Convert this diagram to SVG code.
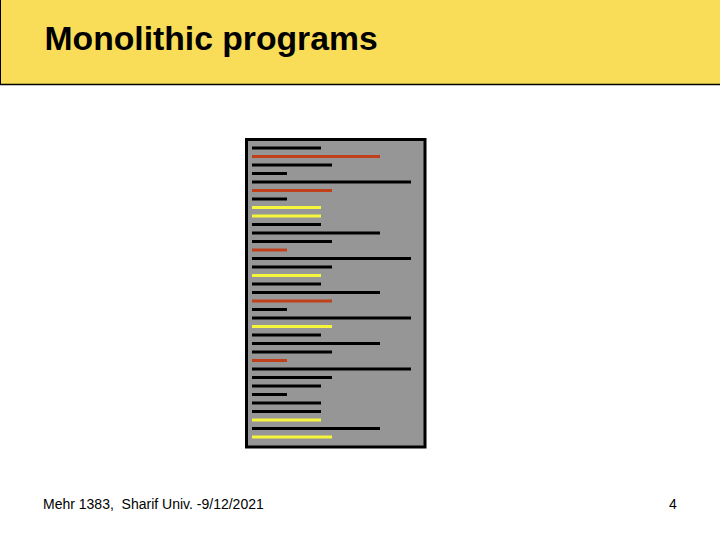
<svg xmlns="http://www.w3.org/2000/svg" width="720" height="540" viewBox="0 0 720 540">
<style>
.t{font-family:"Liberation Sans",Arial,sans-serif;fill:#000}
.k{stroke:#000;stroke-width:3}
.r{stroke:#C0401C;stroke-width:3}
.y{stroke:#F5F53C;stroke-width:3}
</style>
<rect width="720" height="540" fill="#fff"/>
<g id="header">
<rect x="0" y="0" width="720" height="84" fill="#F9DD58"/>
<line x1="0.5" y1="0" x2="0.5" y2="84" stroke="#000" stroke-width="1"/>
<line x1="0" y1="84.5" x2="720" y2="84.5" stroke="#000" stroke-width="1.5"/>
<text class="t" x="44.5" y="50" font-size="33.7" font-weight="bold">Monolithic programs</text>
</g>
<g id="program">
<rect x="246.5" y="139.5" width="178.5" height="307.5" fill="#969696" stroke="#000" stroke-width="3"/>
<g id="lines">
<line class="k" x1="252" y1="148" x2="321" y2="148"/>
<line class="r" x1="252" y1="156.5" x2="380" y2="156.5"/>
<line class="k" x1="252" y1="165" x2="332" y2="165"/>
<line class="k" x1="252" y1="173.5" x2="287" y2="173.5"/>
<line class="k" x1="252" y1="182" x2="411" y2="182"/>
<line class="r" x1="252" y1="190.5" x2="332" y2="190.5"/>
<line class="k" x1="252" y1="199" x2="287" y2="199"/>
<line class="y" x1="252" y1="207.5" x2="321" y2="207.5"/>
<line class="y" x1="252" y1="216" x2="321" y2="216"/>
<line class="k" x1="252" y1="224.5" x2="321" y2="224.5"/>
<line class="k" x1="252" y1="233" x2="380" y2="233"/>
<line class="k" x1="252" y1="241.5" x2="332" y2="241.5"/>
<line class="r" x1="252" y1="250" x2="287" y2="250"/>
<line class="k" x1="252" y1="258.5" x2="411" y2="258.5"/>
<line class="k" x1="252" y1="267" x2="332" y2="267"/>
<line class="y" x1="252" y1="275.5" x2="321" y2="275.5"/>
<line class="k" x1="252" y1="284" x2="321" y2="284"/>
<line class="k" x1="252" y1="292.5" x2="380" y2="292.5"/>
<line class="r" x1="252" y1="301" x2="332" y2="301"/>
<line class="k" x1="252" y1="309.5" x2="287" y2="309.5"/>
<line class="k" x1="252" y1="318" x2="411" y2="318"/>
<line class="y" x1="252" y1="326.5" x2="332" y2="326.5"/>
<line class="k" x1="252" y1="335" x2="321" y2="335"/>
<line class="k" x1="252" y1="343.5" x2="380" y2="343.5"/>
<line class="k" x1="252" y1="352" x2="332" y2="352"/>
<line class="r" x1="252" y1="360.5" x2="287" y2="360.5"/>
<line class="k" x1="252" y1="369" x2="411" y2="369"/>
<line class="k" x1="252" y1="377.5" x2="332" y2="377.5"/>
<line class="k" x1="252" y1="386" x2="321" y2="386"/>
<line class="k" x1="252" y1="394.5" x2="287" y2="394.5"/>
<line class="k" x1="252" y1="403" x2="321" y2="403"/>
<line class="k" x1="252" y1="411.5" x2="321" y2="411.5"/>
<line class="y" x1="252" y1="420" x2="321" y2="420"/>
<line class="k" x1="252" y1="428.5" x2="380" y2="428.5"/>
<line class="y" x1="252" y1="437" x2="332" y2="437"/>
</g>
</g>
<g id="footer">
<text class="t" x="43" y="509" font-size="14" xml:space="preserve">Mehr 1383,  Sharif Univ. -9/12/2021</text>
<text class="t" x="669" y="509" font-size="14">4</text>
</g>
</svg>
